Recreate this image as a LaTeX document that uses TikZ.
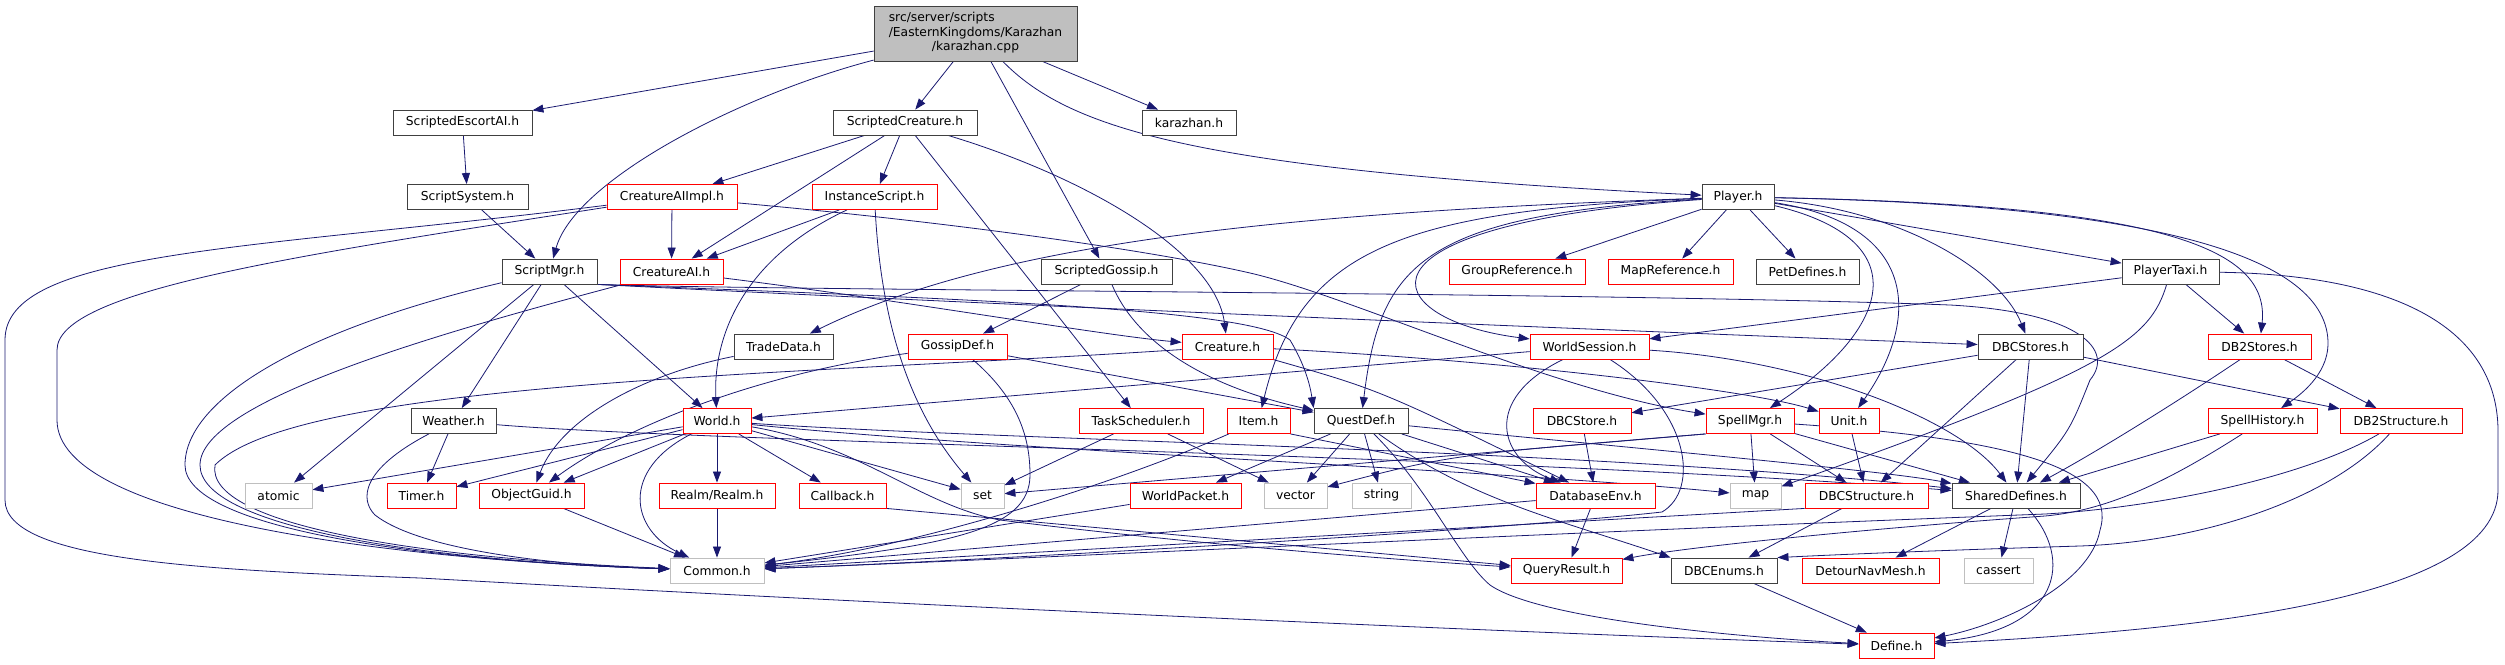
\documentclass[tikz,border=0pt]{standalone}
\usepackage{fontspec}
\setmainfont{DejaVu Sans}
\usetikzlibrary{arrows.meta,backgrounds}
\definecolor{edgeblue}{HTML}{191970}
\definecolor{grayb}{HTML}{BFBFBF}
\definecolor{rootfill}{HTML}{BFBFBF}
\definecolor{darkb}{HTML}{404040}
\newcommand{\nodefont}{\fontsize{12.3}{14.5}\selectfont}
\tikzset{
  nb/.style={draw=darkb, line width=0.85pt, fill=white, minimum height=25pt, inner sep=0pt, font=\nodefont},
  nred/.style={nb, draw=red},
  ngray/.style={nb, draw=grayb},
  edg/.style={draw=edgeblue, line width=0.8pt, -{Triangle[length=11pt,width=8pt]}},
}
\begin{document}
\begin{tikzpicture}[x=1pt,y=-1pt]
\useasboundingbox (0,0) rectangle (2505,664);
% ---------- nodes ----------
\node[nb, fill=rootfill, draw=darkb, minimum width=203pt, minimum height=55pt] (root) at (975.5,33.5)
  {\begin{tabular}{@{}l@{}}src/server/scripts\\/EasternKingdoms/Karazhan\\\multicolumn{1}{@{}c@{}}{/karazhan.cpp}\end{tabular}};
\node[nb, minimum width=139pt] (seai) at (462.5,122.5) {ScriptedEscortAI.h};
\node[nb, minimum width=144pt] (sc) at (905,122.5) {ScriptedCreature.h};
\node[nb, minimum width=94pt] (kar) at (1189,122.5) {karazhan.h};
\node[nb, minimum width=121pt] (ssys) at (467.5,197) {ScriptSystem.h};
\node[nred, minimum width=130pt] (caiimpl) at (672,197) {CreatureAIImpl.h};
\node[nred, minimum width=125pt] (inst) at (874.5,197) {InstanceScript.h};
\node[nb, minimum width=72pt] (player) at (1738,197) {Player.h};
\node[nb, minimum width=95pt] (smgr) at (549.5,271.5) {ScriptMgr.h};
\node[nred, minimum width=103pt] (cai) at (671.5,271.5) {CreatureAI.h};
\node[nb, minimum width=131pt] (sgos) at (1106.5,271.5) {ScriptedGossip.h};
\node[nred, minimum width=136pt] (gref) at (1517,271.5) {GroupReference.h};
\node[nred, minimum width=125pt] (mref) at (1670.5,271.5) {MapReference.h};
\node[nb, minimum width=103pt] (pet) at (1807.5,271.5) {PetDefines.h};
\node[nb, minimum width=97pt] (taxi) at (2170.5,271.5) {PlayerTaxi.h};
\node[nb, minimum width=99pt] (trade) at (783.5,346.5) {TradeData.h};
\node[nred, minimum width=99pt] (gdef) at (957.5,346.5) {GossipDef.h};
\node[nred, minimum width=91pt] (creature) at (1227.5,346.5) {Creature.h};
\node[nred, minimum width=119pt] (wsess) at (1589.5,346.5) {WorldSession.h};
\node[nb, minimum width=105pt] (dbcstores) at (2030.5,346.5) {DBCStores.h};
\node[nred, minimum width=103pt] (db2stores) at (2259.5,346.5) {DB2Stores.h};
\node[nb, minimum width=85pt] (weather) at (453.5,421) {Weather.h};
\node[nred, minimum width=68pt] (world) at (717,421) {World.h};
\node[nred, minimum width=124pt] (task) at (1141,421) {TaskScheduler.h};
\node[nred, minimum width=63pt] (item) at (1258.5,421) {Item.h};
\node[nb, minimum width=94pt] (quest) at (1361,421) {QuestDef.h};
\node[nred, minimum width=98pt] (dbcstore) at (1582,421) {DBCStore.h};
\node[nred, minimum width=88pt] (spellmgr) at (1750,421) {SpellMgr.h};
\node[nred, minimum width=60pt] (unit) at (1849,421) {Unit.h};
\node[nred, minimum width=109pt] (shist) at (2262.5,421) {SpellHistory.h};
\node[nred, minimum width=122pt] (db2struct) at (2401,421) {DB2Structure.h};
\node[ngray, minimum width=67pt] (atomic) at (278.5,495.5) {atomic};
\node[nred, minimum width=69pt] (timer) at (421.5,495.5) {Timer.h};
\node[nred, minimum width=105pt] (oguid) at (531.5,495.5) {ObjectGuid.h};
\node[nred, minimum width=116pt] (realm) at (717,495.5) {Realm/Realm.h};
\node[nred, minimum width=87pt] (callback) at (842.5,495.5) {Callback.h};
\node[ngray, minimum width=43pt] (set) at (982.5,495.5) {set};
\node[nred, minimum width=111pt] (wpacket) at (1185.5,495.5) {WorldPacket.h};
\node[ngray, minimum width=63pt] (vector) at (1295.5,495.5) {vector};
\node[ngray, minimum width=59pt] (string) at (1381.5,495.5) {string};
\node[nred, minimum width=119pt] (dbenv) at (1595.5,495.5) {DatabaseEnv.h};
\node[ngray, minimum width=51pt] (map) at (1755.5,495.5) {map};
\node[nred, minimum width=123pt] (dbcstruct) at (1866.5,495.5) {DBCStructure.h};
\node[nb, minimum width=128pt] (shared) at (2016,495.5) {SharedDefines.h};
\node[ngray, minimum width=94pt] (common) at (717,570.5) {Common.h};
\node[nred, minimum width=111pt] (qres) at (1566.5,570.5) {QueryResult.h};
\node[nb, minimum width=106pt] (dbcenums) at (1724,570.5) {DBCEnums.h};
\node[nred, minimum width=137pt] (detour) at (1870.5,570.5) {DetourNavMesh.h};
\node[ngray, minimum width=69pt] (cassert) at (1998.5,570.5) {cassert};
\node[nred, minimum width=75pt] (define) at (1896.5,645.5) {Define.h};
% ---------- edges ----------
\begin{pgfonlayer}{background}
% root
\draw[edg] (root) -- (seai);
\draw[edg] (root) .. controls (740,95) and (575,180) .. (smgr);
\draw[edg] (root) -- (sc);
\draw[edg] (root) -- (sgos);
\draw[edg] (root) .. controls (1070,130) and (1200,170) .. (player);
\draw[edg] (root) -- (kar);
\draw[edg] (seai) -- (ssys);
\draw[edg] (ssys) -- (smgr);
% ScriptedCreature
\draw[edg] (sc) -- (caiimpl);
\draw[edg] (sc) -- (cai);
\draw[edg] (sc) -- (inst);
\draw[edg] (sc) -- (task);
\draw[edg] (sc) .. controls (1080,175) and (1215,250) .. (creature);
% CreatureAIImpl
\draw[edg] (caiimpl) -- (cai);
\draw[edg] (caiimpl) .. controls (300,255) and (57,290) .. (57,350) -- (57,420) .. controls (57,520) and (400,560) .. (common);
\draw[edg] (caiimpl) .. controls (250,250) and (5,250) .. (5,340) -- (5,500) .. controls (5,560) and (200,570) .. (420,578) .. controls (900,605) and (1500,632) .. (define);
\draw[edg] (caiimpl) .. controls (950,222) and (1150,250) .. (1250,273) .. controls (1350,296) and (1550,390) .. (spellmgr);
% CreatureAI
\draw[edg] (cai) .. controls (900,300) and (1100,335) .. (creature);
\draw[edg] (cai) .. controls (450,330) and (200,400) .. (200,465) .. controls (200,525) and (410,560) .. (common);
% InstanceScript
\draw[edg] (inst) -- (cai);
\draw[edg] (inst) .. controls (740,260) and (713,340) .. (world);
\draw[edg] (inst) .. controls (880,300) and (900,400) .. (set);
% ScriptMgr
\draw[edg] (smgr) -- (atomic);
\draw[edg] (smgr) -- (weather);
\draw[edg] (smgr) -- (world);
\draw[edg] (smgr) .. controls (300,330) and (185,400) .. (185,465) .. controls (185,525) and (400,560) .. (common);
\draw[edg] (smgr.south east) .. controls (1000,305) and (1600,330) .. (dbcstores);
\draw[edg] (smgr.south east) .. controls (800,291) and (1600,292) .. (1950,305) .. controls (2080,312) and (2115,350) .. (2090,380) .. controls (2070,430) .. (shared);
\draw[edg] (smgr.south east) .. controls (1000,300) and (1250,310) .. (1290,340) .. controls (1305,365) and (1310,385) .. (quest.north west);
% Weather
\draw[edg] (weather) -- (timer);
\draw[edg] (weather) .. controls (360,470) and (360,500) .. (375,515) .. controls (420,550) and (550,565) .. (common);
\draw[edg] (weather) .. controls (700,442) and (1500,455) .. (shared);
% World
\draw[edg] (world) -- (timer);
\draw[edg] (world) -- (oguid);
\draw[edg] (world) .. controls (620,470) and (630,530) .. (common);
\draw[edg] (world) -- (realm);
\draw[edg] (world) -- (callback);
\draw[edg] (world) -- (atomic);
\draw[edg] (world) -- (set);
\draw[edg] (world) .. controls (1000,440) and (1600,450) .. (shared);
\draw[edg] (world) .. controls (1000,450) and (1500,470) .. (map);
\draw[edg] (world) .. controls (860,445) and (920,505) .. (1000,520) .. controls (1200,545) and (1400,560) .. (qres);
% small ones
\draw[edg] (callback.south east) -- (qres);
\draw[edg] (oguid) -- (common);
\draw[edg] (realm) -- (common);
\draw[edg] (trade) .. controls (640,375) and (560,420) .. (oguid);
% GossipDef
\draw[edg] (gdef) .. controls (750,375) and (620,430) .. (oguid);
\draw[edg] (gdef) -- (quest);
\draw[edg] (gdef) .. controls (1020,400) and (1030,440) .. (1030,475) .. controls (1030,530) and (950,545) .. (common);
% ScriptedGossip
\draw[edg] (sgos) -- (gdef);
\draw[edg] (sgos) .. controls (1135,340) and (1200,385) .. (quest);
% TaskScheduler
\draw[edg] (task) -- (set);
\draw[edg] (task) -- (vector);
% Item
\draw[edg] (item) .. controls (1100,490) and (900,550) .. (common);
\draw[edg] (item.south east) -- (dbenv);
% QuestDef
\draw[edg] (quest) -- (wpacket);
\draw[edg] (quest) -- (vector);
\draw[edg] (quest) -- (string);
\draw[edg] (quest) -- (dbenv);
\draw[edg] (quest) .. controls (1470,500) and (1560,520) .. (dbcenums.north west);
\draw[edg] (quest) .. controls (1600,445) and (1880,470) .. (shared);
\draw[edg] (quest) .. controls (1430,490) and (1460,560) .. (1490,585) .. controls (1540,620) and (1750,638) .. (define);
% DBCStore, DatabaseEnv, WorldPacket
\draw[edg] (dbcstore) -- (dbenv);
\draw[edg] (dbenv) -- (qres);
\draw[edg] (dbenv) -- (common);
\draw[edg] (wpacket) -- (common);
% Creature
\draw[edg] (creature) .. controls (1380,390) .. (dbenv);
\draw[edg] (creature) .. controls (1500,360) and (1750,390) .. (unit);
\draw[edg] (creature) .. controls (800,375) and (300,380) .. (215,465) .. controls (205,525) and (420,558) .. (common);
% WorldSession
\draw[edg] (wsess) -- (world);
\draw[edg] (wsess) .. controls (1480,400) and (1500,460) .. (dbenv);
\draw[edg] (wsess) .. controls (1690,410) and (1700,490) .. (1662,512) .. controls (1500,530) and (1000,560) .. (common);
\draw[edg] (wsess) .. controls (1810,360) and (1960,420) .. (shared);
% DBCStores
\draw[edg] (dbcstores) -- (dbcstore);
\draw[edg] (dbcstores) -- (dbcstruct);
\draw[edg] (dbcstores) -- (shared);
\draw[edg] (dbcstores) -- (db2struct);
% SpellMgr
\draw[edg] (spellmgr) -- (map);
\draw[edg] (spellmgr) -- (dbcstruct);
\draw[edg] (spellmgr) -- (shared);
\draw[edg] (spellmgr.south west) -- (set);
\draw[edg] (spellmgr.south west) .. controls (1450,455) .. (vector.15);
\draw[edg] (spellmgr) .. controls (2000,438) and (2120,465) .. (2100,530) .. controls (2090,585) and (2000,625) .. (define);
% Unit, DBCStructure, DBCEnums, SharedDefines
\draw[edg] (unit) -- (dbcstruct);
\draw[edg] (dbcstruct) -- (dbcenums);
\draw[edg] (dbcstruct.south west) -- (common);
\draw[edg] (dbcenums) -- (define);
\draw[edg] (shared) -- (detour);
\draw[edg] (shared) -- (cassert);
\draw[edg] (shared) .. controls (2075,560) and (2060,630) .. (define);
% Player
\draw[edg] (player) -- (gref);
\draw[edg] (player) -- (mref);
\draw[edg] (player) -- (pet);
\draw[edg] (player) -- (taxi);
\draw[edg] (player) .. controls (1300,212) and (1000,240) .. (trade);
\draw[edg] (player) .. controls (1400,210) and (1300,250) .. (item);
\draw[edg] (player) .. controls (1420,215) and (1380,265) .. (quest);
\draw[edg] (player) .. controls (1330,225) and (1380,320) .. (wsess);
\draw[edg] (player) .. controls (1920,240) and (1890,330) .. (spellmgr);
\draw[edg] (player) .. controls (1920,225) and (1920,320) .. (unit);
\draw[edg] (player) .. controls (1900,210) and (2000,270) .. (dbcstores);
\draw[edg] (player) .. controls (2170,205) and (2270,250) .. (db2stores);
\draw[edg] (player) .. controls (2150,205) and (2330,255) .. (2328,345) .. controls (2327,375) and (2300,395) .. (shist);
% PlayerTaxi
\draw[edg] (taxi) -- (db2stores);
\draw[edg] (taxi) -- (wsess);
\draw[edg] (taxi) .. controls (2150,340) and (2110,370) .. (map);
\draw[edg] (taxi) .. controls (2400,275) and (2497,330) .. (2498,430) -- (2498,490) .. controls (2498,600) and (2200,630) .. (define);
% DB2Stores, SpellHistory, DB2Structure
\draw[edg] (db2stores) -- (db2struct);
\draw[edg] (db2stores) .. controls (2180,400) and (2100,450) .. (shared);
\draw[edg] (shist) -- (shared);
\draw[edg] (shist) .. controls (2170,480) and (2110,510) .. (2045,516) .. controls (1850,530) and (1680,548) .. (qres);
\draw[edg] (db2struct) .. controls (2300,480) and (2150,508) .. (2045,514) .. controls (1500,535) and (1000,560) .. (common);
\draw[edg] (db2struct) .. controls (2330,500) and (2200,542) .. (2080,546) .. controls (1950,550) and (1850,554) .. (dbcenums.north east);
\end{pgfonlayer}
\end{tikzpicture}
\end{document}
